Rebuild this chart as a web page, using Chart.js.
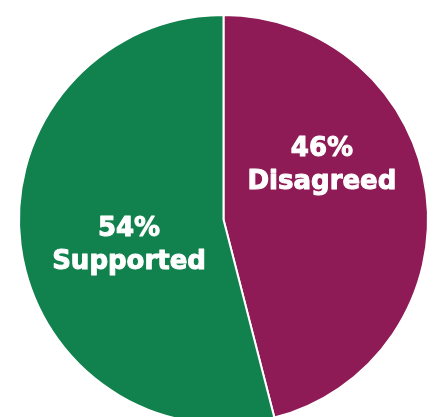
<!DOCTYPE html>
<html>
<head>
<meta charset="utf-8">
<script src="https://cdn.jsdelivr.net/npm/chart.js@4.4.0/dist/chart.umd.min.js"></script>
<style>
  html, body { margin: 0; padding: 0; background: #fff; overflow: hidden; width: 437px; height: 417px; }
  #wrap { position: absolute; left: 0; top: 0; width: 447px; height: 439px; }
</style>
</head>
<body>
<div id="wrap"><canvas id="graficoPie"></canvas></div>
<script>
// datos del gráfico
const categorias = ['Disagreed', 'Supported'];
const porcentajes = [46, 54];
const colores = ['#8E1B55', '#11824D'];

// desplazamiento de cada etiqueta respecto al punto medio del sector (px)
const desplazamientos = [[-3, -41], [7, 13]];

const etiquetasPlugin = {
    id: 'etiquetasPie',
    afterDatasetsDraw(chart) {
        const ctx = chart.ctx;
        const meta = chart.getDatasetMeta(0);
        meta.data.forEach((arc, i) => {
            const p = arc.getProps(['x', 'y', 'startAngle', 'endAngle', 'outerRadius'], true);
            const mid = (p.startAngle + p.endAngle) / 2;
            const r = p.outerRadius * 0.5;
            const cx = p.x + Math.cos(mid) * r + desplazamientos[i][0];
            const cy = p.y + Math.sin(mid) * r + desplazamientos[i][1];
            ctx.save();
            ctx.fillStyle = '#ffffff';
            ctx.strokeStyle = '#ffffff';
            ctx.lineWidth = 1;
            ctx.lineJoin = 'round';
            ctx.textAlign = 'center';
            ctx.textBaseline = 'middle';
            ctx.font = 'bold 26px "DejaVu Sans", sans-serif';
            [[porcentajes[i] + '%', cy - 16], [categorias[i], cy + 17]].forEach(([t, y]) => {
                ctx.fillText(t, cx, y);
                ctx.strokeText(t, cx, y);
            });
            ctx.restore();
        });
    }
};

const chartPie = new Chart(document.getElementById('graficoPie').getContext('2d'), {
    type: 'pie',
    data: {
        labels: categorias,
        datasets: [{
            data: porcentajes,
            backgroundColor: colores,
            borderColor: '#ffffff',
            borderWidth: 2
        }]
    },
    options: {
        responsive: true,
        maintainAspectRatio: false,
        animation: false,
        layout: { padding: 14 },
        plugins: {
            legend: { display: false },
            tooltip: { enabled: false }
        }
    },
    plugins: [etiquetasPlugin]
});
</script>
</body>
</html>
